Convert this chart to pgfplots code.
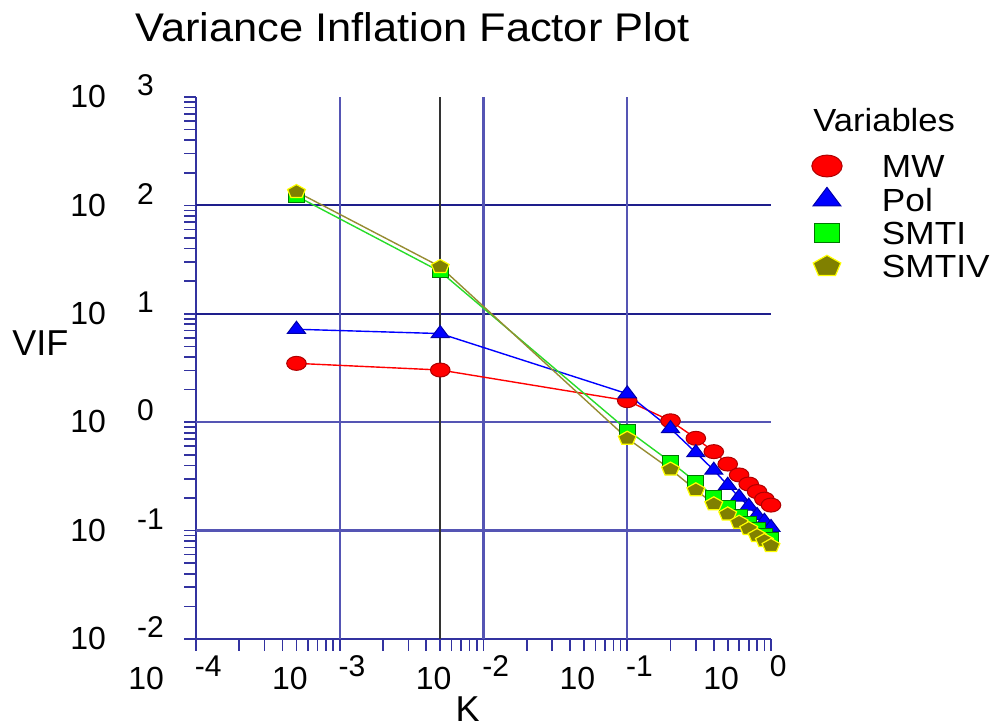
\documentclass[border=0pt]{standalone}
\usepackage{fontspec}
\setmainfont{Liberation Sans}
\usepackage{pgfplots}
\pgfplotsset{compat=1.18}
\definecolor{gridblue}{RGB}{30,30,140}
\definecolor{gridblue2}{RGB}{85,85,180}
\definecolor{axblue}{RGB}{50,50,160}
\definecolor{mwred}{RGB}{255,0,0}
\definecolor{mwedge}{RGB}{175,0,0}
\definecolor{polblue}{RGB}{0,0,255}
\definecolor{poledge}{RGB}{0,0,170}
\definecolor{smtigreen}{RGB}{0,255,0}
\definecolor{smtiedge}{RGB}{0,120,0}
\definecolor{smtiline}{RGB}{40,220,40}
\definecolor{smtivolive}{RGB}{128,128,0}
\definecolor{smtivedge}{RGB}{255,255,0}
\definecolor{smtivline}{RGB}{150,140,50}
\newcommand{\wide}[1]{\scalebox{1.1}[1]{#1}}
\begin{document}
\begin{tikzpicture}
\path[use as bounding box] (-98pt,-44pt) rectangle (399.5pt,319.5pt);
\begin{axis}[
  at={(0pt,0pt)}, anchor=south west,
  scale only axis, width=287.5pt, height=271pt,
  xmode=log, ymode=log,
  xmin=1e-4, xmax=1, ymin=1e-2, ymax=1e3,
  axis x line=bottom, axis y line=left,
  axis line style={-, draw=axblue, line width=0.9pt},
  tick align=outside,
  major tick length=6pt, minor tick length=6pt,
  tick style={draw=axblue, line width=0.8pt},
  xticklabels={,,,,,,}, yticklabels={,,,,,,,},
  clip=false,
  legend cell align=left,
  legend style={at={(1.0417,0.8948)}, anchor=north west, draw=none, fill=none,
    inner sep=0pt, outer sep=0pt, column sep=11.5pt, row sep=4.67pt,
    font=\fontsize{16}{18}\selectfont, cells={anchor=west},
    nodes={inner sep=0pt, text height=11.4pt, text depth=0pt}},
  legend image code/.code={\path[draw=none,fill=none] (0pt,-6pt) rectangle (32pt,6pt);
    \draw[#1, /tikz/every mark/.append style={scale=1.55}] plot coordinates {(16pt,0pt)};},
]
% grid lines
\draw[gridblue, line width=0.9pt] (axis cs:1e-4,100) -- (axis cs:1,100);
\draw[gridblue, line width=0.9pt] (axis cs:1e-4,10) -- (axis cs:1,10);
\draw[gridblue2, line width=1.1pt] (axis cs:1e-4,1) -- (axis cs:1,1);
\draw[gridblue2, line width=1.1pt] (axis cs:1e-4,0.1) -- (axis cs:1,0.1);
\draw[gridblue2, line width=1.2pt] (axis cs:1e-3,1e-2) -- (axis cs:1e-3,1e3);
\draw[gridblue2, line width=1.2pt] (axis cs:1e-2,1e-2) -- (axis cs:1e-2,1e3);
\draw[gridblue2, line width=1.2pt] (axis cs:1e-1,1e-2) -- (axis cs:1e-1,1e3);
\draw[black!80, line width=1pt] (axis cs:5e-3,1e-2) -- (axis cs:5e-3,1e3);

\addplot[color=mwred, line width=0.7pt, mark=*, mark size=3.5pt,
  mark options={xscale=1.4, fill=mwred, draw=mwedge, line width=0.5pt, solid}]
  coordinates {(0.0005,3.49) (0.005,3.03) (0.1,1.58) (0.2,1.03) (0.3,0.71) (0.4,0.535)
   (0.5,0.411) (0.6,0.326) (0.7,0.269) (0.8,0.229) (0.9,0.195) (1,0.172)};
\addlegendentry{\wide{MW}}
\addplot[color=polblue, line width=0.7pt, mark=triangle*, mark size=4pt,
  mark options={xscale=1.3, fill=polblue, draw=poledge, line width=0.5pt, solid}]
  coordinates {(0.0005,7.2) (0.005,6.57) (0.1,1.83) (0.2,0.874) (0.3,0.524) (0.4,0.361)
   (0.5,0.262) (0.6,0.204) (0.7,0.168) (0.8,0.138) (0.9,0.122) (1,0.107)};
\addlegendentry{\wide{Pol}}
\addplot[color=smtiline, line width=0.7pt, mark=square*, mark size=3pt,
  mark options={xscale=1.33, fill=smtigreen, draw=smtiedge, line width=0.5pt, solid}]
  coordinates {(0.0005,122) (0.005,24.5) (0.1,0.847) (0.2,0.43) (0.3,0.282) (0.4,0.208)
   (0.5,0.166) (0.6,0.139) (0.7,0.119) (0.8,0.104) (0.9,0.0925) (1,0.0837)};
\addlegendentry{\wide{SMTI}}
\addplot[color=smtivline, line width=0.7pt, mark=pentagon*, mark size=3.6pt,
  mark options={xscale=1.3, fill=smtivolive, draw=smtivedge, line width=0.6pt, solid}]
  coordinates {(0.0005,133.7) (0.005,27.2) (0.1,0.709) (0.2,0.368) (0.3,0.237) (0.4,0.176)
   (0.5,0.142) (0.6,0.119) (0.7,0.104) (0.8,0.0898) (0.9,0.0807) (1,0.0726)};
\addlegendentry{\wide{SMTIV}}
\end{axis}
% tick labels
\foreach \e/\t in {0/-4,1/-3,2/-2,3/-1,4/0} {
  \node[anchor=base east, inner sep=0pt, font=\fontsize{16}{19}\selectfont] at ({\e*71.875pt-15.8pt},-25.5pt) {10};
  \node[anchor=base west, inner sep=0pt, font=\fontsize{15}{18}\selectfont] at ({\e*71.875pt-0.8pt},-18.75pt) {\t};
}
\foreach \e/\t in {0/-2,1/-1,2/0,3/1,4/2,5/3} {
  \node[anchor=base east, inner sep=0pt, font=\fontsize{16}{19}\selectfont] at (-44.8pt,{\e*54.2pt-5.35pt}) {10};
  \node[anchor=base west, inner sep=0pt, font=\fontsize{15}{18}\selectfont] at (-29.6pt,{\e*54.2pt+0.6pt}) {\t};
}
\node[anchor=base west, inner sep=0pt, font=\fontsize{20}{24}\selectfont] at (-30.5pt,298.5pt) {\scalebox{1.085}[1]{Variance Inflation Factor Plot}};
\node[anchor=base west, inner sep=0pt, font=\fontsize{18}{22}\selectfont] at (-92pt,141.5pt) {VIF};
\node[anchor=base west, inner sep=0pt, font=\fontsize{18}{22}\selectfont] at (129.6pt,-41.5pt) {K};
\node[anchor=base west, inner sep=0pt, font=\fontsize{16}{19}\selectfont] at (308.5pt,253.6pt) {\scalebox{1.08}[1]{Variables}};
\end{tikzpicture}
\end{document}
